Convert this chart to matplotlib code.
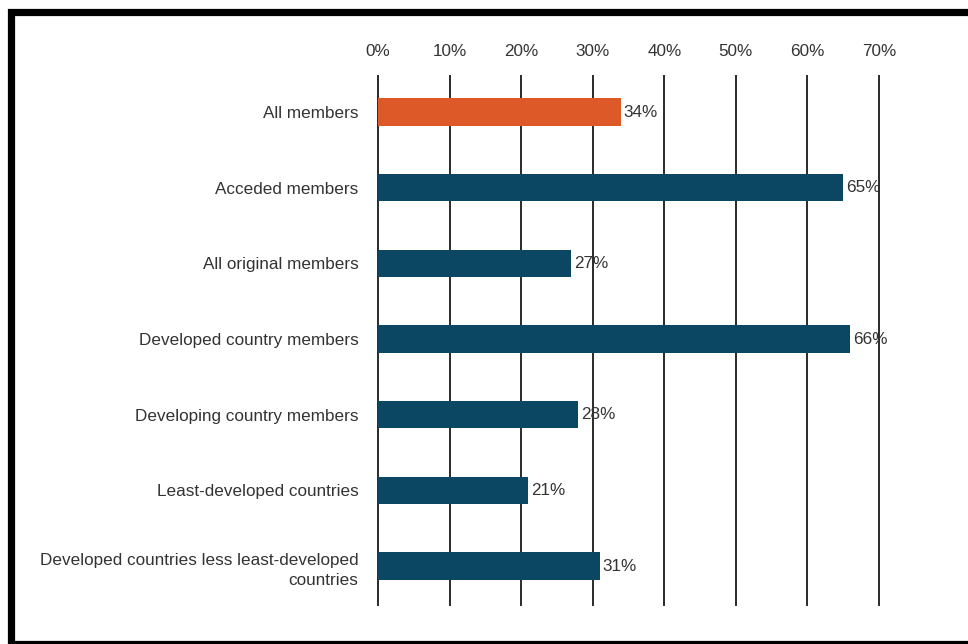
import matplotlib
matplotlib.use("Agg")
import matplotlib.pyplot as plt
from matplotlib.patches import Rectangle

categories = ["All members", "Acceded members", "All original members",
              "Developed country members", "Developing country members",
              "Least-developed countries",
              "Developed countries less least-developed\ncountries"]
values = [34, 65, 27, 66, 28, 21, 31]
tick_values = [0, 10, 20, 30, 40, 50, 60, 70]
tick_labels = ["0%", "10%", "20%", "30%", "40%", "50%", "60%", "70%"]
bar_colors = ["#DD5A28"] + ["#0B4662"] * 6

plt.rcParams['font.family'] = ['Liberation Sans', 'DejaVu Sans']

W, H = 968, 644
fig = plt.figure(figsize=(W / 100, H / 100), dpi=100)
fig.patch.set_facecolor("white")

left_px, right_px, top_px, bot_px = 378, 879, 76, 605
ax = fig.add_axes([left_px / W, 1 - bot_px / H, (right_px - left_px) / W, (bot_px - top_px) / H])

y = list(range(len(categories)))
ax.set_xlim(0, 70)
ax.set_ylim(6.515, -0.476)

for t in tick_values:
    ax.axvline(t, color="#2a2a2a", lw=1.4, zorder=1, clip_on=False)

ax.barh(y, values, height=0.36, color=bar_colors, zorder=2)

FS = 12.3
for yi, v in zip(y, values):
    ax.text(v + 0.35, yi, f"{v}%", va="center", ha="left", fontsize=FS,
            color="#333333", zorder=3)

ax.xaxis.tick_top()
ax.set_xticks(tick_values)
ax.set_xticklabels(tick_labels, fontsize=FS, color="#333333")
ax.set_yticks(y)
ax.set_yticklabels(categories, fontsize=FS, color="#333333", ha="right",
                   linespacing=1.45)
ax.tick_params(axis="x", length=0, pad=12)
ax.tick_params(axis="y", length=0, pad=14)
for s in ax.spines.values():
    s.set_visible(False)
ax.set_facecolor("none")

# outer black frame
fig.patches.append(Rectangle((10.5 / W, 0.5 / H), (975 - 10.5) / W, (H - 11.5 - 0.5) / H,
                             transform=fig.transFigure, fill=False,
                             edgecolor="black", lw=5.2, zorder=10))

fig.savefig("out.png", dpi=100)
